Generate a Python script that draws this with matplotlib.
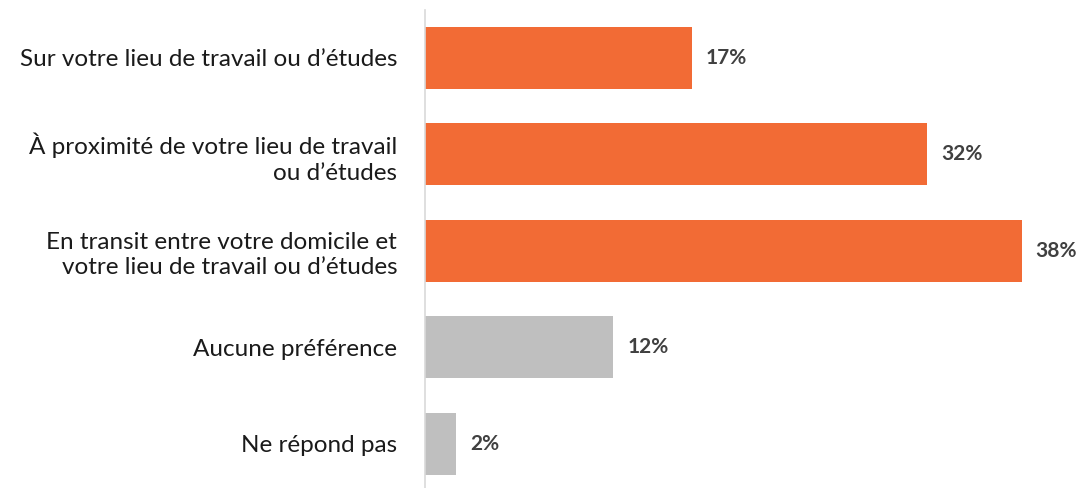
import matplotlib
matplotlib.use("Agg")
import matplotlib.pyplot as plt

categories = [
    "Sur votre lieu de travail ou d\u2019\u00e9tudes",
    "\u00c0 proximit\u00e9 de votre lieu de travail\nou d\u2019\u00e9tudes",
    "En transit entre votre domicile et\nvotre lieu de travail ou d\u2019\u00e9tudes",
    "Aucune pr\u00e9f\u00e9rence",
    "Ne r\u00e9pond pas",
]
values = [17, 32, 38, 12, 2]
colors = ["#F26B35", "#F26B35", "#F26B35", "#BFBFBF", "#BFBFBF"]

plt.rcParams['font.family'] = ['Lato', 'DejaVu Sans']

fig = plt.figure(figsize=(10.79, 4.88), dpi=100)
ax = fig.add_axes([425 / 1079, -4 / 488, 1 - 425 / 1079, 482.5 / 488])

y = list(range(len(categories)))
ax.barh(y, values, height=0.64, color=colors)
for yi, v in zip(y, values):
    ax.text(v + 0.9, yi, f"{v}%", va="center", ha="left",
            fontsize=15, fontweight="bold", color="#404040", clip_on=False)

ax.set_ylim(len(categories) - 0.5, -0.5)
ax.set_xlim(0, (1079 - 425) / 15.7)
ax.set_yticks(y)
ax.set_yticklabels(categories, fontsize=17.5, color="#1a1a1a", linespacing=1.25)
ax.tick_params(axis="y", length=0, pad=20)
ax.set_xticks([])
for s in ["top", "right", "bottom"]:
    ax.spines[s].set_visible(False)
ax.spines["left"].set_color("#D9D9D9")
ax.spines["left"].set_linewidth(1.2)

fig.savefig("out.png", dpi=100)
